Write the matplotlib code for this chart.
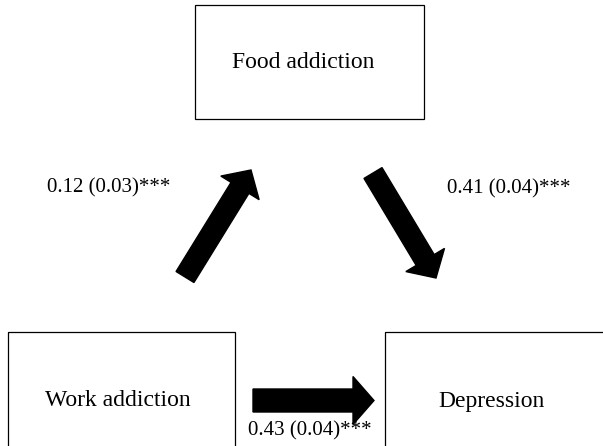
import matplotlib.pyplot as plt
from matplotlib.patches import Rectangle, FancyArrow

# variables in the mediation model
nodes = ["Food addiction", "Work addiction", "Depression"]
# path coefficients (standard errors)
paths = [("Work addiction", "Food addiction"),
         ("Food addiction", "Depression"),
         ("Work addiction", "Depression")]
coefs = [0.12, 0.41, 0.43]
ses = [0.03, 0.04, 0.04]
stars = ["***", "***", "***"]

# layout in pixel coordinates (x, y from top-left)
boxes = {
    "Food addiction": (195, 5, 229, 114),
    "Work addiction": (8, 332, 227, 120),
    "Depression": (385, 332, 230, 120),
}
text_pos = {
    "Food addiction": (303, 63),
    "Work addiction": (118, 401),
    "Depression": (491, 401),
}
# start, end, shaft width, head width
arrow_pos = [((185, 277), (251, 170), 21, 45),
             ((373, 173), (436, 278), 21, 45),
             ((253, 400.5), (374, 400.5), 23, 48)]
label_pos = [(109, 188), (509, 189), (310, 431)]

plt.rcParams['font.family'] = ['Liberation Serif', 'DejaVu Serif']

fig = plt.figure(figsize=(6.03, 4.46), dpi=100)
ax = fig.add_axes([0, 0, 1, 1])
ax.set_xlim(0, 603)
ax.set_ylim(446, 0)
ax.axis('off')

for name in nodes:
    x, y, w, h = boxes[name]
    ax.add_patch(Rectangle((x, y), w, h, fill=False, edgecolor='black', linewidth=0.9))
    tx, ty = text_pos[name]
    ax.text(tx, ty, name, fontsize=17, ha='center', va='center')

for (p0, p1, w, hw), b, se, st, lp in zip(arrow_pos, coefs, ses, stars, label_pos):
    ax.add_patch(FancyArrow(p0[0], p0[1], p1[0] - p0[0], p1[1] - p0[1],
                            width=w, head_width=hw, head_length=21,
                            length_includes_head=True, color='black'))
    ax.text(lp[0], lp[1], f"{b:.2f} ({se:.2f}){st}", fontsize=15,
            ha='center', va='center')

fig.savefig("out.png", dpi=100)
